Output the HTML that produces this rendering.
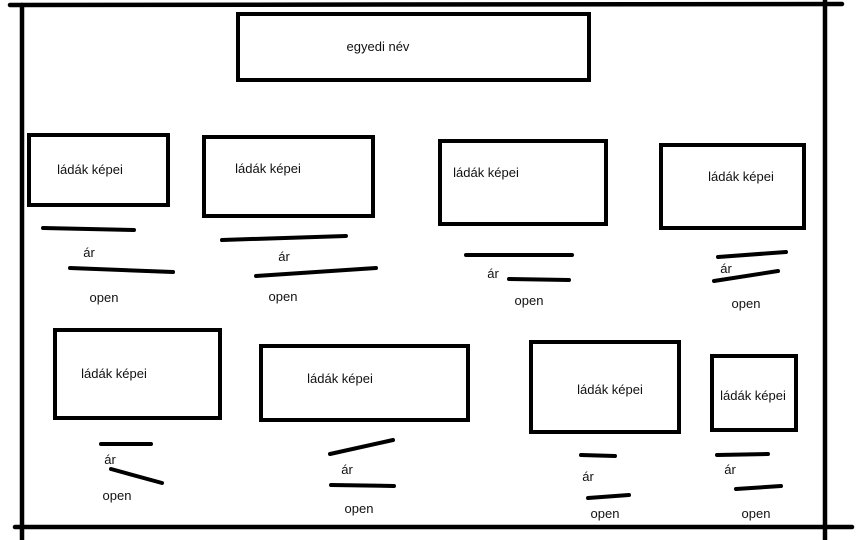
<!DOCTYPE html>
<html><head><meta charset="utf-8"><style>
html,body{margin:0;padding:0;background:#fff;}
svg{display:block;}
text{font-family:"Liberation Sans",sans-serif;font-size:13px;fill:#111;text-anchor:middle;}
</style></head><body>
<svg width="864" height="540" viewBox="0 0 864 540" xmlns="http://www.w3.org/2000/svg">
<g stroke="#000" stroke-width="4.5" fill="none" stroke-linecap="round">
<line x1="10" y1="5" x2="842" y2="4"/>
<line x1="22" y1="5" x2="22" y2="540"/>
<line x1="825" y1="0" x2="825" y2="540"/>
<line x1="15" y1="527" x2="852" y2="527"/>
</g>
<g stroke="#000" stroke-width="4" fill="none">
<rect x="238" y="14" width="351" height="66"/>
<rect x="29" y="135" width="139" height="70"/>
<rect x="204" y="137" width="169" height="79"/>
<rect x="440" y="141" width="166" height="83"/>
<rect x="661" y="145" width="143" height="83"/>
<rect x="55" y="330" width="165" height="88"/>
<rect x="261" y="346" width="207" height="74"/>
<rect x="531" y="342" width="148" height="90"/>
<rect x="712" y="356" width="84" height="74"/>
</g>
<g stroke="#000" stroke-width="4" stroke-linecap="round">
<line x1="43" y1="228" x2="134" y2="230"/><line x1="70" y1="268" x2="173" y2="272"/>
<line x1="222" y1="240" x2="346" y2="236"/><line x1="256" y1="276" x2="376" y2="268"/>
<line x1="466" y1="255" x2="572" y2="255"/><line x1="509" y1="279" x2="569" y2="280"/>
<line x1="718" y1="257" x2="786" y2="252"/><line x1="714" y1="281" x2="778" y2="271"/>
<line x1="101" y1="444" x2="151" y2="444"/><line x1="111" y1="469" x2="162" y2="483"/>
<line x1="330" y1="454" x2="393" y2="440"/><line x1="331" y1="485" x2="394" y2="486"/>
<line x1="581" y1="455" x2="615" y2="456"/><line x1="588" y1="498" x2="629" y2="495"/>
<line x1="717" y1="455" x2="768" y2="454"/><line x1="736" y1="489" x2="781" y2="486"/>
</g>
<text x="378" y="51">egyedi név</text>
<text x="90" y="174">ládák képei</text>
<text x="268" y="173">ládák képei</text>
<text x="486" y="177">ládák képei</text>
<text x="741" y="181">ládák képei</text>
<text x="114" y="378">ládák képei</text>
<text x="340" y="383">ládák képei</text>
<text x="610" y="394">ládák képei</text>
<text x="753" y="400">ládák képei</text>
<text x="89" y="257">ár</text><text x="104" y="302">open</text>
<text x="284" y="261">ár</text><text x="283" y="301">open</text>
<text x="493" y="278">ár</text><text x="529" y="305">open</text>
<text x="726" y="273">ár</text><text x="746" y="308">open</text>
<text x="110" y="464">ár</text><text x="117" y="500">open</text>
<text x="347" y="474">ár</text><text x="359" y="513">open</text>
<text x="588" y="481">ár</text><text x="605" y="518">open</text>
<text x="730" y="474">ár</text><text x="756" y="518">open</text>
</svg>
</body></html>
